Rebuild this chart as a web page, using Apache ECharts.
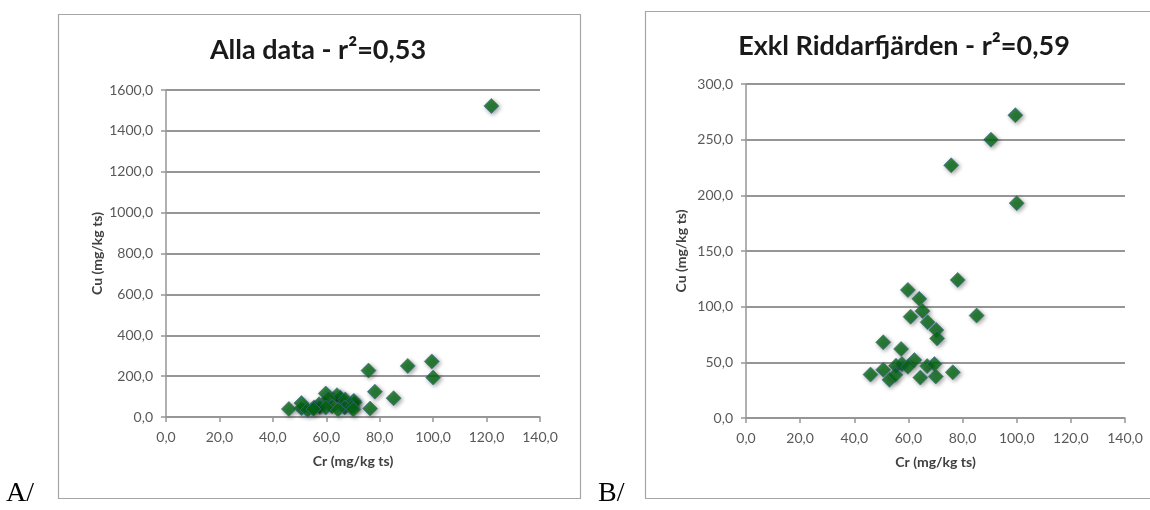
<!DOCTYPE html>
<html>
<head>
<meta charset="utf-8">
<script src="https://cdn.jsdelivr.net/npm/echarts@6/dist/echarts.min.js"></script>
<style>
html,body{margin:0;padding:0;background:#fff;}
#c{width:1150px;height:510px;}
</style>
</head>
<body>
<div id="c"></div>
<script>
// ---- data ----
const titleA = 'Alla data - r²=0,53';
const titleB = 'Exkl Riddarfjärden - r²=0,59';
const xName = 'Cr (mg/kg ts)';
const yName = 'Cu (mg/kg ts)';
const xTicks = [0, 20, 40, 60, 80, 100, 120, 140];
const yTicksA = [0, 200, 400, 600, 800, 1000, 1200, 1400, 1600];
const yTicksB = [0, 50, 100, 150, 200, 250, 300];
// Cr values (x) and Cu values (y), excluding Riddarfjärden
const crExkl = [99.5, 90.5, 75.8, 100.0, 78.2, 59.8, 64.0, 65.2, 60.8, 85.2, 67.1, 70.3, 70.6, 50.7,
                57.3, 62.2, 55.4, 57.6, 59.8, 66.9, 69.6, 50.7, 46.0, 53.0, 55.2, 64.4, 70.1, 76.4];
const cuExkl = [272, 250, 227, 193, 124, 115, 107, 96, 91, 92, 86, 79, 71.5, 68,
                62, 52, 47, 48.5, 46, 46.6, 48.4, 43.3, 39, 34.3, 38.8, 36.3, 37.3, 41];
// Riddarfjärden point
const crRidd = [121.8];
const cuRidd = [1522];

const crAll = crExkl.concat(crRidd);
const cuAll = cuExkl.concat(cuRidd);
const ptsA = crAll.map((x, i) => [x, cuAll[i]]);
const ptsB = crExkl.map((x, i) => [x, cuExkl[i]]);

const fmt = v => v.toFixed(1).replace('.', ',');
const FONT = 'Lato';
const gridCol = '#969696';

function xAxis(gi) {
  return {
    type: 'value', gridIndex: gi,
    min: xTicks[0], max: xTicks[xTicks.length - 1], interval: xTicks[1] - xTicks[0],
    name: xName, nameLocation: 'middle', nameGap: 37,
    nameTextStyle: {fontFamily: FONT, fontWeight: 'bold', fontSize: 14, color: '#404040'},
    axisLine: {show: true, lineStyle: {color: gridCol, width: 1.5}},
    axisTick: {show: true, length: 5, lineStyle: {color: gridCol, width: 1.5}},
    splitLine: {show: false},
    axisLabel: {formatter: fmt, margin: 13, fontFamily: FONT, fontSize: 14, color: '#595959'}
  };
}
function yAxis(gi, ticks, gap) {
  return {
    type: 'value', gridIndex: gi,
    min: ticks[0], max: ticks[ticks.length - 1], interval: ticks[1] - ticks[0],
    name: yName, nameLocation: 'middle', nameGap: gap, nameRotate: 90,
    nameTextStyle: {fontFamily: FONT, fontWeight: 'bold', fontSize: 14, color: '#404040'},
    axisLine: {show: true, lineStyle: {color: gridCol, width: 1.5}},
    axisTick: {show: true, length: 5, lineStyle: {color: gridCol, width: 1.5}},
    splitLine: {show: true, lineStyle: {color: gridCol, width: 2}},
    axisLabel: {formatter: fmt, margin: 13, fontFamily: FONT, fontSize: 14, color: '#595959'}
  };
}
const markerStyle = {
  color: '#066a16', borderColor: '#3f6f96', borderWidth: 0.8,
  shadowBlur: 4, shadowColor: 'rgba(0,0,0,0.45)', shadowOffsetX: 1.5, shadowOffsetY: 1.5
};

const chart = echarts.init(document.getElementById('c'), null, {renderer: 'canvas'});
chart.setOption({
  animation: false,
  backgroundColor: '#fff',
  grid: [
    {left: 166, top: 90, width: 374, height: 327},
    {left: 746, top: 84, width: 379, height: 334}
  ],
  xAxis: [xAxis(0), xAxis(1)],
  yAxis: [yAxis(0, yTicksA, 62), yAxis(1, yTicksB, 58)],
  series: [
    {type: 'scatter', xAxisIndex: 0, yAxisIndex: 0, data: ptsA, symbol: 'diamond', symbolSize: 15, itemStyle: markerStyle},
    {type: 'scatter', xAxisIndex: 1, yAxisIndex: 1, data: ptsB, symbol: 'diamond', symbolSize: 15, itemStyle: markerStyle}
  ],
  graphic: [
    {type: 'rect', shape: {x: 58.5, y: 14.5, width: 522, height: 484}, style: {fill: 'none', stroke: '#a6a6a6', lineWidth: 1.2}, silent: true, z: -1},
    {type: 'rect', shape: {x: 645.5, y: 11.5, width: 520, height: 487}, style: {fill: 'none', stroke: '#a6a6a6', lineWidth: 1.2}, silent: true, z: -1},
    {type: 'text', x: 318, y: 50, style: {text: titleA, fontFamily: FONT, fontWeight: 'bold', fontSize: 27, fill: '#1a1a1a', textAlign: 'center', textVerticalAlign: 'middle'}},
    {type: 'text', x: 904, y: 46, style: {text: titleB, fontFamily: FONT, fontWeight: 'bold', fontSize: 27, fill: '#1a1a1a', textAlign: 'center', textVerticalAlign: 'middle'}},
    {type: 'text', x: 6, y: 508, style: {text: 'A/', fontFamily: 'Liberation Serif', fontSize: 28, fill: '#000', textAlign: 'left', textVerticalAlign: 'bottom'}},
    {type: 'text', x: 598, y: 508, style: {text: 'B/', fontFamily: 'Liberation Serif', fontSize: 28, fill: '#000', textAlign: 'left', textVerticalAlign: 'bottom'}}
  ]
});
</script>
</body>
</html>
